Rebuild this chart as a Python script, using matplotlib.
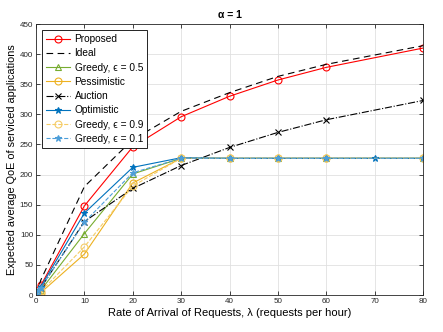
import matplotlib
matplotlib.use("Agg")
import matplotlib.pyplot as plt

plt.rcParams['font.family'] = ['Liberation Sans', 'DejaVu Sans']
plt.rcParams['mathtext.fontset'] = 'dejavusans'

# data
lam = [0, 0.5, 1, 10, 20, 30, 40, 50, 60, 80]
lam_opt = [0, 0.5, 1, 10, 20, 30, 40, 50, 60, 70, 80]

proposed = [0, 8, 16, 148, 246, 296, 330, 357, 378, 410]
ideal = [0, 12, 25, 180, 258, 305, 336, 363, 383, 414]
greedy_05 = [0, 4, 8, 102, 201, 227, 227, 227, 227, 227]
pessimistic = [0, 2, 4, 68, 186, 227, 227, 227, 227, 227]
auction = [0, 6, 12, 122, 177, 215, 245, 270, 291, 323]
optimistic = [0, 7, 14, 136, 212, 228, 227, 227, 227, 227, 227]
greedy_09 = [0, 3, 6, 80, 181, 227, 227, 227, 227, 227]
greedy_01 = [0, 6, 12, 121, 203, 227, 227, 227, 227, 227]

blue = (0, 0.447, 0.741)
yellow = (0.929, 0.694, 0.125)
green = (0.466, 0.674, 0.188)
light_yellow = (0.96, 0.80, 0.40)
light_blue = (0.30, 0.62, 0.85)

fig = plt.figure(figsize=(4.43, 3.32), dpi=100)
ax = fig.add_axes([0.0813, 0.1114, 0.8736, 0.8163])

lw = 0.8
ms = 5
ax.plot(lam, proposed, '-o', color='red', lw=lw, ms=ms, mfc='none', mew=0.8, label='Proposed')
ax.plot(lam, ideal, '--', color='black', lw=lw, dashes=(6, 4), label='Ideal')
ax.plot(lam, greedy_05, '-^', color=green, lw=lw, ms=ms, mfc='none', mew=0.8, label='Greedy, ϵ = 0.5')
ax.plot(lam, pessimistic, '-o', color=yellow, lw=lw, ms=ms, mfc='none', mew=0.8, label='Pessimistic')
ax.plot(lam, auction, '-.x', color='black', lw=lw, ms=4, mew=0.8, label='Auction')
ax.plot(lam_opt, optimistic, '-*', color=blue, lw=lw, ms=ms, mew=0.8, label='Optimistic')
ax.plot(lam, greedy_09, '--o', color=light_yellow, lw=lw, ms=ms, mfc='none', mew=0.8, label='Greedy, ϵ = 0.9')
ax.plot(lam, greedy_01, '--*', color=light_blue, lw=lw, ms=ms, mew=0.8, label='Greedy, ϵ = 0.1')

ax.set_xlim(0, 80)
ax.set_ylim(0, 450)
ax.set_xticks(range(0, 81, 10))
ax.set_yticks(range(0, 451, 50))
ax.grid(True, color='#e0e0e0', lw=0.6)
ax.set_axisbelow(True)
ax.tick_params(direction='in', labelsize=5.8, length=3, width=0.6, top=True, right=True,
               colors='#262626', pad=2)
for s in ax.spines.values():
    s.set_linewidth(0.6)
    s.set_color('#262626')

ax.set_xlabel('Rate of Arrival of Requests, λ (requests per hour)', fontsize=8, labelpad=2)
ax.set_ylabel('Expected average QoE of serviced applications', fontsize=7.8, labelpad=2)
ax.set_title('α = 1', fontsize=7.5, fontweight='bold', pad=4)

leg = ax.legend(loc='upper left', fontsize=7.3, handlelength=2.4, borderpad=0.4,
                labelspacing=0.42, handletextpad=0.4, fancybox=False, framealpha=1,
                edgecolor='black', borderaxespad=0.6)
leg.get_frame().set_linewidth(0.6)

fig.savefig('out.png', dpi=100)
